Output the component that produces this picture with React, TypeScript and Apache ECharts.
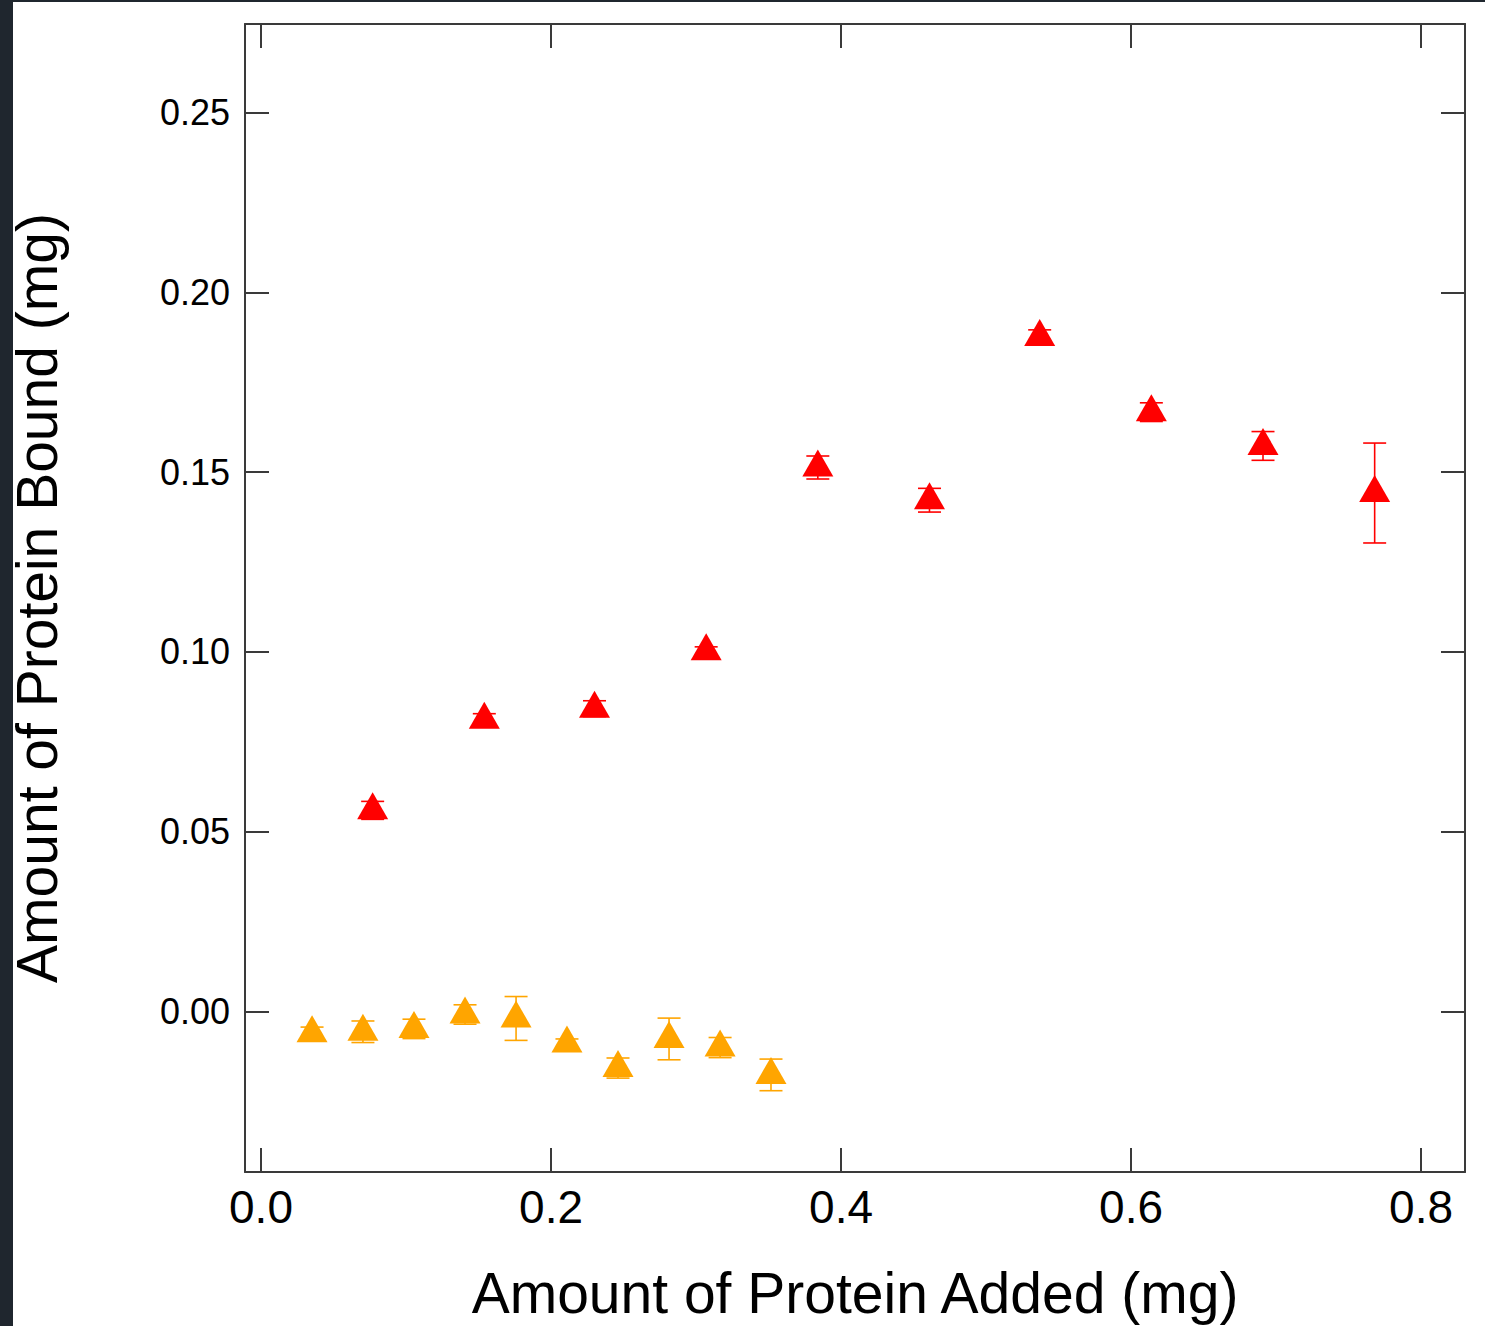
import React, { useEffect, useRef } from "react";
import * as echarts from "echarts";

const redX = [0.077, 0.154, 0.23, 0.307, 0.384, 0.461, 0.537, 0.614, 0.691, 0.768];
const redY = [0.0559, 0.0811, 0.0842, 0.1002, 0.1513, 0.1422, 0.1876, 0.1667, 0.1573, 0.1442];
const redErr = [0.0025, 0.0017, 0.0022, 0.0012, 0.0032, 0.0033, 0.002, 0.0026, 0.004, 0.0139];

const orangeX = [0.0352, 0.0703, 0.1055, 0.1407, 0.1759, 0.211, 0.2462, 0.2814, 0.3166, 0.3517];
const orangeY = [-0.0061, -0.0057, -0.0049, -0.0009, -0.002, -0.009, -0.0158, -0.0077, -0.0101, -0.0177];
const orangeErr = [0.0017, 0.003, 0.0027, 0.0027, 0.0061, 0.0013, 0.0028, 0.0058, 0.0028, 0.0044];

const xTicks = [0, 0.2, 0.4, 0.6, 0.8];
const yTicks = [0, 0.05, 0.1, 0.15, 0.2, 0.25];

const X_MIN = -0.01103;
const X_MAX = 0.8303;
const Y_MIN = -0.04472;
const Y_MAX = 0.2747;

const RED = "#ff0000";
const ORANGE = "#ffa500";
const FRAME = "#3a3a3a";
const FONT = "Liberation Sans";

function errorSeries(xs: number[], ys: number[], errs: number[], color: string) {
  const data = xs.map((x, i) => [x, ys[i] - errs[i], ys[i] + errs[i]]);
  return {
    type: "custom",
    xAxisIndex: 0,
    yAxisIndex: 0,
    data,
    encode: { x: 0, y: [1, 2] },
    z: 1,
    silent: true,
    renderItem: (params: any, api: any) => {
      const x = api.value(0);
      const lo = api.coord([x, api.value(1)]);
      const hi = api.coord([x, api.value(2)]);
      const hw = 11.5;
      const st = { stroke: color, lineWidth: 1.6 };
      return {
        type: "group",
        children: [
          { type: "line", shape: { x1: lo[0], y1: lo[1], x2: hi[0], y2: hi[1] }, style: st },
          { type: "line", shape: { x1: lo[0] - hw, y1: lo[1], x2: lo[0] + hw, y2: lo[1] }, style: st },
          { type: "line", shape: { x1: hi[0] - hw, y1: hi[1], x2: hi[0] + hw, y2: hi[1] }, style: st },
        ],
      };
    },
  };
}

function scatterSeries(xs: number[], ys: number[], color: string) {
  return {
    type: "scatter",
    xAxisIndex: 0,
    yAxisIndex: 0,
    data: xs.map((x, i) => [x, ys[i]]),
    symbol: "triangle",
    symbolSize: [31, 27],
    symbolOffset: [0, -4.5],
    itemStyle: { color, opacity: 1 },
    z: 2,
  };
}

export default function App() {
  const ref = useRef<HTMLDivElement>(null);
  useEffect(() => {
    if (!ref.current) return;
    const chart = echarts.init(ref.current, null, { renderer: "svg" });
    const axisLine = { show: true, onZero: false, lineStyle: { color: FRAME, width: 2 } };
    const tick = { show: true, inside: true, length: 24, lineStyle: { color: FRAME, width: 2 } };
    const baseX = {
      type: "value",
      min: X_MIN,
      max: X_MAX,
      splitLine: { show: false },
      axisLine,
    };
    const baseY = {
      type: "value",
      min: Y_MIN,
      max: Y_MAX,
      splitLine: { show: false },
      axisLine,
    };
    chart.setOption({
      animation: false,
      backgroundColor: "#ffffff",
      graphic: [
        { type: "rect", shape: { x: 0, y: 0, width: 13, height: 1326 }, style: { fill: "#1f262e" }, z: 100 },
        { type: "rect", shape: { x: 0, y: 0, width: 1485, height: 2 }, style: { fill: "#1f262e" }, z: 100 },
      ],
      grid: { left: 245, top: 24, right: 20, bottom: 152, containLabel: false },
      xAxis: [
        {
          ...baseX,
          position: "bottom",
          axisTick: { ...tick, customValues: xTicks },
          axisLabel: {
            show: true,
            customValues: xTicks,
            formatter: (v: number) => v.toFixed(1),
            color: "#000",
            fontFamily: FONT,
            fontSize: 46,
            margin: 12,
          },
          name: "Amount of Protein Added (mg)",
          nameLocation: "middle",
          nameGap: 92,
          nameTextStyle: { color: "#000", fontFamily: FONT, fontSize: 57 },
        },
        {
          ...baseX,
          position: "top",
          axisTick: { ...tick, customValues: xTicks },
          axisLabel: { show: false },
        },
      ],
      yAxis: [
        {
          ...baseY,
          position: "left",
          axisTick: { ...tick, customValues: yTicks },
          axisLabel: {
            show: true,
            customValues: yTicks,
            formatter: (v: number) => v.toFixed(2),
            color: "#000",
            fontFamily: FONT,
            fontSize: 36,
            margin: 15,
          },
          name: "Amount of Protein Bound (mg)",
          nameLocation: "middle",
          nameRotate: 90,
          nameGap: 180,
          nameTextStyle: { color: "#000", fontFamily: FONT, fontSize: 57 },
        },
        {
          ...baseY,
          position: "right",
          axisTick: { ...tick, customValues: yTicks },
          axisLabel: { show: false },
        },
      ],
      series: [
        errorSeries(redX, redY, redErr, RED),
        errorSeries(orangeX, orangeY, orangeErr, ORANGE),
        scatterSeries(redX, redY, RED),
        scatterSeries(orangeX, orangeY, ORANGE),
      ],
    });
    return () => chart.dispose();
  }, []);
  return (
    <div
      ref={ref}
      style={{ position: "fixed", left: 0, top: 0, width: 1485, height: 1326 }}
    />
  );
}
